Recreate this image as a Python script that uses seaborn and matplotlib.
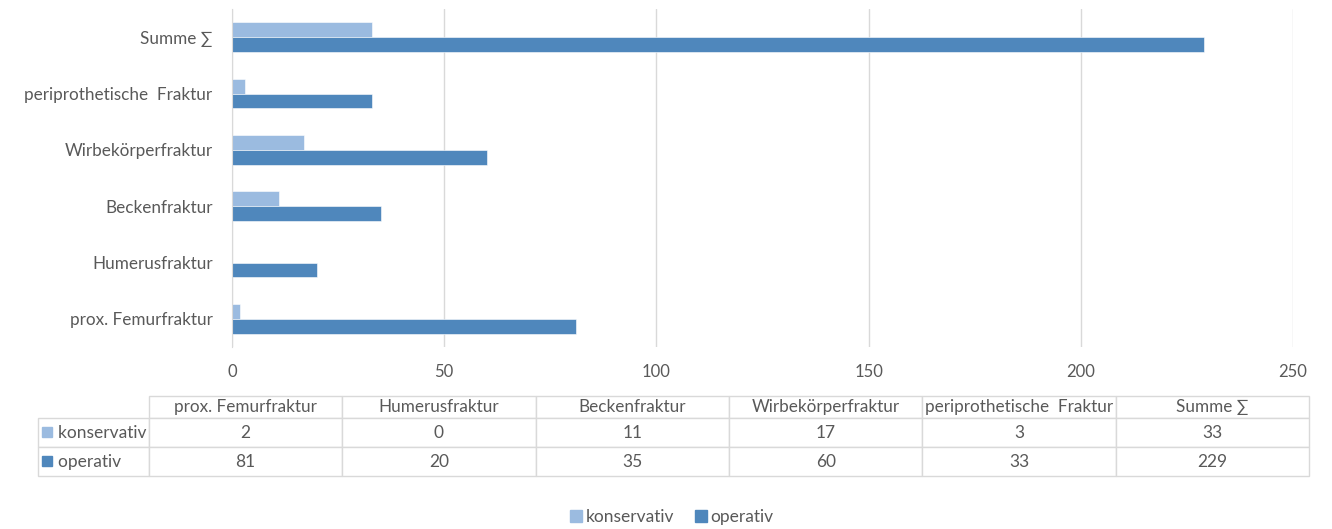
import pandas as pd
import matplotlib.pyplot as plt
import seaborn as sns
from matplotlib.patches import Rectangle

# Data
categories = ['prox. Femurfraktur', 'Humerusfraktur', 'Beckenfraktur',
              'Wirbekörperfraktur', 'periprothetische  Fraktur', 'Summe ∑']
konservativ = [2, 0, 11, 17, 3, 33]
operativ = [81, 20, 35, 60, 33, 229]
series = ['konservativ', 'operativ']
colors = ['#9BBBE0', '#4F87BC']
x_ticks = [0, 50, 100, 150, 200, 250]

df = pd.DataFrame({
    'Kategorie': categories * 2,
    'Wert': konservativ + operativ,
    'Serie': ['konservativ'] * len(categories) + ['operativ'] * len(categories),
})

sns.set_style('white')
plt.rcParams['font.family'] = ['Lato', 'DejaVu Sans']
text_col = '#595959'

fig = plt.figure(figsize=(13.32, 5.29), dpi=100)
ax_top, ax_bot = 9, 347
ax = fig.add_axes([232 / 1332, 1 - ax_bot / 529, 1061 / 1332, (ax_bot - ax_top) / 529])

sns.barplot(data=df, y='Kategorie', x='Wert', hue='Serie', orient='h',
            order=categories[::-1], hue_order=series, palette=colors,
            saturation=1, width=0.53, edgecolor='white', linewidth=0.4,
            ax=ax, legend=False)

ax.set_xlim(0, 250)
ax.set_xticks(x_ticks)
ax.set_xlabel('')
ax.set_ylabel('')
ax.grid(axis='x', color='#D9D9D9', linewidth=1)
ax.set_axisbelow(True)
for s in ['top', 'right', 'bottom']:
    ax.spines[s].set_visible(False)
ax.spines['left'].set_color('#D9D9D9')
ax.tick_params(axis='both', length=0, labelsize=12, labelcolor=text_col)
ax.tick_params(axis='y', labelsize=12.3, pad=14)
ax.tick_params(axis='x', pad=12)

# data table below the chart
cell_text = [[''] + categories,
             ['    konservativ'] + [str(v) for v in konservativ],
             ['    operativ'] + [str(v) for v in operativ]]
ax_w, ax_h = 1061, ax_bot - ax_top
left = (38 - 232) / ax_w
right = (1309 - 232) / ax_w
bottom = (ax_bot - 476) / ax_h
top = (ax_bot - 396) / ax_h
label_w = (149 - 38) / ax_w
col_w = (right - left - label_w) / len(categories)
tbl = ax.table(cellText=cell_text, colWidths=[label_w] + [col_w] * len(categories),
               cellLoc='center', bbox=[left, bottom, right - left, top - bottom])
tbl.auto_set_font_size(False)
row_heights = [22, 29.5, 29]
for (r, c), cell in tbl.get_celld().items():
    cell.set_height(row_heights[r] / 100)
    cell.set_edgecolor('#D9D9D9')
    cell.set_linewidth(1)
    cell.get_text().set_color(text_col)
    cell.get_text().set_fontsize(12.5 if r > 0 else 12.3)
    if c == 0:
        cell.get_text().set_ha('left')
        cell._loc = 'left'
        cell.PAD = 0.02
    if r == 0 and c == 0:
        cell.visible_edges = ''

# colored squares in row labels
sq_w = 10 / ax_w
sq_h = 10 / ax_h
row_centers = [(ax_bot - 432) / ax_h, (ax_bot - 461) / ax_h]
for yc, col in zip(row_centers, colors):
    ax.add_patch(Rectangle(((42 - 232) / ax_w, yc - sq_h / 2), sq_w, sq_h,
                           transform=ax.transAxes, color=col, clip_on=False))

handles = [Rectangle((0, 0), 1, 1, color=c) for c in colors]
fig.legend(handles, series, loc='center', bbox_to_anchor=(672 / 1332, 1 - 517 / 529),
           ncol=2, frameon=False, handlelength=0.7, handleheight=0.7,
           handletextpad=0.2, columnspacing=1.2, fontsize=12.5, labelcolor=text_col)

fig.savefig('out.png', dpi=100)
